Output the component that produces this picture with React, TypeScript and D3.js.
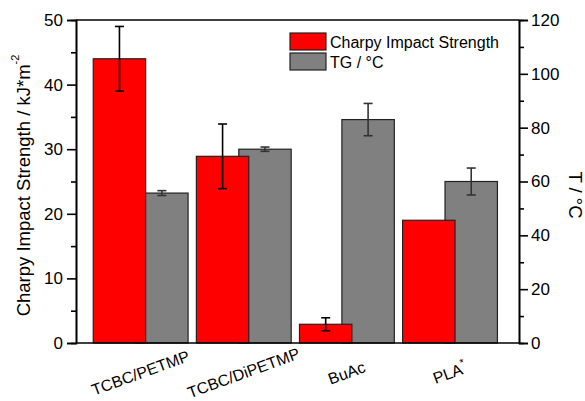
import React, { useEffect, useRef } from "react";
import * as d3 from "d3";

// sample names along the x axis
const categories = ["TCBC/PETMP", "TCBC/DiPETMP", "BuAc", "PLA*"];
// Charpy impact strength, kJ/m^2 (left axis)
const impactValues = [44, 28.9, 2.9, 19];
const impactErrors = [5, 5, 1, 0];
// glass transition temperature, °C (right axis)
const tgValues = [55.7, 72, 83, 60];
const tgErrors = [0.9, 0.8, 6, 5];
const leftTicks = [0, 10, 20, 30, 40, 50];
const leftMinor = [5, 15, 25, 35, 45];
const rightTicks = [0, 20, 40, 60, 80, 100, 120];
const rightMinor = [10, 30, 50, 70, 90, 110];

const W = 585, H = 401;
const left = 76, right = 519, top = 20, bottom = 343;
const font = "'Liberation Sans', Arial, sans-serif";

export default function App() {
  const leftRef = useRef<SVGGElement>(null);
  const rightRef = useRef<SVGGElement>(null);

  const x = d3.scaleBand<string>()
    .domain(categories)
    .range([left, right])
    .paddingInner(0.084)
    .paddingOuter(0.19)
    .align(0.44);
  const yL = d3.scaleLinear().domain([0, 50]).range([bottom, top]);
  const yR = d3.scaleLinear().domain([0, 120]).range([bottom, top]);
  const bw = x.bandwidth();
  const barW = bw * 0.555;
  const grayOff = bw * 0.449;

  useEffect(() => {
    const gl = d3.select(leftRef.current);
    gl.selectAll("*").remove();
    gl.append("g").call(d3.axisLeft(yL).tickValues(leftMinor).tickSize(5).tickFormat(() => ""));
    gl.append("g").call(d3.axisLeft(yL).tickValues(leftTicks).tickSize(9).tickPadding(4).tickFormat(d3.format("d")));
    const gr = d3.select(rightRef.current);
    gr.selectAll("*").remove();
    gr.append("g").call(d3.axisRight(yR).tickValues(rightMinor).tickSize(5).tickFormat(() => ""));
    gr.append("g").call(d3.axisRight(yR).tickValues(rightTicks).tickSize(9).tickPadding(3).tickFormat(d3.format("d")));
    [gl, gr].forEach((g) => {
      g.selectAll("path.domain").attr("stroke-width", 1.6).attr("stroke", "#000");
      g.selectAll(".tick line").attr("stroke-width", 1.6).attr("stroke", "#000");
      g.selectAll(".tick text").attr("font-size", 17).attr("font-family", font).attr("fill", "#000");
    });
  }, []);

  const errBar = (cx: number, y0: number, y1: number, key: string, color: string) => (
    <g key={key} stroke={color} strokeWidth={1.6}>
      <line x1={cx} x2={cx} y1={y0} y2={y1} />
      <line x1={cx - 4.5} x2={cx + 4.5} y1={y0} y2={y0} />
      <line x1={cx - 4.5} x2={cx + 4.5} y1={y1} y2={y1} />
    </g>
  );

  return (
    <div style={{ position: "absolute", left: 0, top: 0 }}>
      <svg width={W} height={H} style={{ display: "block", background: "#fff" }} fontFamily={font}>
        {/* gray bars (behind) */}
        {categories.map((c, i) => {
          const x0 = (x(c) as number) + grayOff;
          return (
            <rect key={"g" + i} x={x0} y={yR(tgValues[i])} width={barW} height={yR(0) - yR(tgValues[i])}
              fill="#808080" stroke="#222" strokeWidth={1.2} />
          );
        })}
        {categories.map((c, i) => {
          const cx = (x(c) as number) + grayOff + barW / 2;
          return tgErrors[i] > 0 ? errBar(cx, yR(tgValues[i] + tgErrors[i]), yR(tgValues[i] - tgErrors[i]), "ge" + i, "#333") : null;
        })}
        {/* red bars (front) */}
        {categories.map((c, i) => (
          <rect key={"r" + i} x={x(c)} y={yL(impactValues[i])} width={barW} height={yL(0) - yL(impactValues[i])}
            fill="#ff0000" stroke="#222" strokeWidth={1.2} />
        ))}
        {categories.map((c, i) => {
          const cx = (x(c) as number) + barW / 2;
          return impactErrors[i] > 0 ? errBar(cx, yL(impactValues[i] + impactErrors[i]), yL(impactValues[i] - impactErrors[i]), "re" + i, "#000") : null;
        })}

        {/* frame */}
        <line x1={left} x2={right} y1={top} y2={top} stroke="#000" strokeWidth={1.6} />
        <line x1={left} x2={right} y1={bottom} y2={bottom} stroke="#000" strokeWidth={1.6} />
        <g ref={leftRef} transform={`translate(${left},0)`} />
        <g ref={rightRef} transform={`translate(${right},0)`} />

        {/* x labels */}
        {categories.map((c, i) => {
          const cx = (x(c) as number) + bw / 2;
          const star = c.endsWith("*");
          return (
            <text key={"xl" + i} transform={`translate(${cx},373) rotate(-20)`} textAnchor="middle"
              dominantBaseline="central" fontSize={16}>
              {star ? c.slice(0, -1) : c}
              {star ? <tspan fontSize={11} dy={-6}>*</tspan> : null}
            </text>
          );
        })}

        {/* axis titles */}
        <text transform={`translate(23,${(top + bottom) / 2 + 4}) rotate(-90)`} textAnchor="middle"
          dominantBaseline="central" fontSize={18.5}>
          Charpy Impact Strength / kJ*m<tspan fontSize={11} dy={-8}>-2</tspan>
        </text>
        <text transform={`translate(575,195) rotate(90)`} textAnchor="middle" dominantBaseline="central" fontSize={18.5}>
          T / °C
        </text>

        {/* legend */}
        <rect x={290} y={33} width={36} height={17} fill="#ff0000" stroke="#222" strokeWidth={1.2} />
        <rect x={290} y={53} width={36} height={17} fill="#808080" stroke="#222" strokeWidth={1.2} />
        <text x={330} y={42} dominantBaseline="central" fontSize={16}>Charpy Impact Strength</text>
        <text x={330} y={62} dominantBaseline="central" fontSize={16}>TG / °C</text>
      </svg>
    </div>
  );
}
